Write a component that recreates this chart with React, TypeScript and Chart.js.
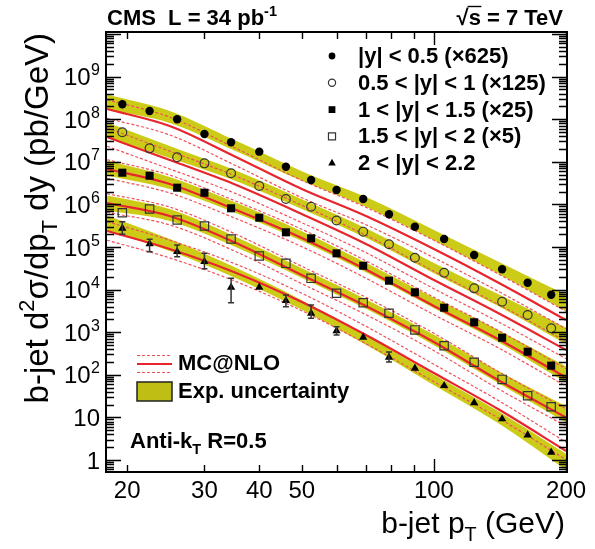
import React, { useEffect, useRef } from 'react';
import { Chart, registerables } from 'chart.js';
Chart.register(...registerables);

// ---------------- data ----------------
const ptCenters = [19.5, 22.5, 26, 30, 34.5, 40, 46, 52.5, 60, 69, 79, 90.5, 105.5, 123.5, 143, 163.5, 185];

const xsY05 = [2.24e8, 1.56e8, 1.0e8, 4.5e7, 2.87e7, 1.73e7, 7.67e6, 3.74e6, 2.18e6, 1.34e6, 5.86e5, 3.0e5, 1.54e5, 6.49e4, 3.0e4, 1.45e4, 7.6e3];
const xsY10 = [4.92e7, 2.07e7, 1.28e7, 9.2e6, 5.37e6, 2.7e6, 1.34e6, 8.8e5, 4.19e5, 2.29e5, 1.16e5, 5.6e4, 2.49e4, 1.07e4, 5.2e3, 2.53e3, 1.24e3];
const xsY15 = [5.55e6, 4.72e6, 2.47e6, 1.88e6, 8.1e5, 4.87e5, 2.21e5, 1.6e5, 7.1e4, 3.64e4, 1.62e4, 8.65e3, 3.76e3, 1.71e3, 743, 349, 164];
const xsY20 = [6.38e5, 7.8e5, 4.3e5, 3.11e5, 1.54e5, 6.15e4, 4.14e4, 1.84e4, 8.2e3, 4.92e3, 2.78e3, 1.13e3, 482, 197, 78, 32.3, 17.8];
const xsY22 = [2.75e5, 1.18e5, 7.76e4, 4.52e4, 1.13e4, 1.13e4, 5.49e3, 2.78e3, 1.07e3, 759, 258, 142, 55.5, 22.1, 9.2, 3.86, 1.52];

// error bars of the 2<|y|<2.2 series (null = hidden)
const errLowY22 = [2.0e5, 7.76e4, 5.92e4, 3.1e4, 4.93e3, null, 3.97e3, 2.12e3, 860, null, 200, null, null, null, null, null, null];
const errHighY22 = [3.9e5, 1.52e5, 1.11e5, 7.11e4, 1.84e4, null, 7.47e3, 4.35e3, 1340, null, 343, null, null, null, null, null, null];

// smooth curves (experimental band centre, MC@NLO) at these pT nodes
const curvePt = [18, 25, 35, 50, 70, 100, 140, 200];

const bandY05 = [2.53e8, 1.13e8, 2.48e7, 4.64e6, 1.14e6, 1.91e5, 3.3e4, 4.85e3];
const bandY10 = [5.57e7, 1.7e7, 4.9e6, 1.02e6, 2.13e5, 3.21e4, 5.7e3, 815];
const bandY15 = [7.15e6, 3.18e6, 8.69e5, 1.81e5, 3.3e4, 4.85e3, 815, 102];
const bandY20 = [1.08e6, 5.64e5, 1.38e5, 2.45e4, 4.59e3, 656, 88.8, 11.7];
const bandY22 = [3.66e5, 1.11e5, 2.59e4, 4.35e3, 656, 75.5, 10.2, 0.9];
const expUnc = [0.5, 0.38, 0.32, 0.3, 0.3, 0.32, 0.38, 0.55];

const mcY05 = [1.73e8, 6.92e7, 1.37e7, 2.3e6, 5.34e5, 8.98e4, 1.47e4, 1.93e3];
const mcY10 = [3.82e7, 1.1e7, 3.01e6, 5.96e5, 1.18e5, 1.68e4, 2.82e3, 382];
const mcY15 = [6.78e6, 3.01e6, 7.8e5, 1.63e5, 2.96e4, 4.12e3, 692, 86.4];
const mcY20 = [1.08e6, 5.34e5, 1.31e5, 2.2e4, 4.12e3, 589, 75.5, 9.95];
const mcY22 = [2.38e5, 8.98e4, 2.59e4, 5.12e3, 859, 110, 15.7, 1.63];
const mcScaleUnc = [1.65, 1.62, 1.6, 1.6, 1.6, 1.6, 1.6, 1.6];

const seriesLabels = ['|y| < 0.5 (×625)', '0.5 < |y| < 1 (×125)', '1 < |y| < 1.5 (×25)', '1.5 < |y| < 2 (×5)', '2 < |y| < 2.2'];
const xTickLabels = [20, 30, 40, 50, 100, 200];
const yTickPowers = [0, 1, 2, 3, 4, 5, 6, 7, 8, 9];

// ---------------- style ----------------
const FONT = '"Liberation Sans", Arial, Helvetica, sans-serif';
const BAND = 'rgb(204,204,24)';
const RED = 'rgb(232,36,44)';
const RED_DASH = 'rgb(240,80,90)';

type MarkerDef = { style: string; filled: boolean; r: number; lr: number };
const markers: MarkerDef[] = [
  { style: 'circle', filled: true, r: 4.2, lr: 3.4 },
  { style: 'circle', filled: false, r: 4.4, lr: 3.6 },
  { style: 'rect', filled: true, r: 5.7, lr: 4.8 },
  { style: 'rect', filled: false, r: 5.9, lr: 5.0 },
  { style: 'triangle', filled: true, r: 4.8, lr: 4.4 },
];

type Seg = { t: string; s?: 'sup' | 'sub' };

function drawRich(ctx: CanvasRenderingContext2D, segs: Seg[], x: number, y: number, size: number, weight: string, align: 'left' | 'right' | 'center') {
  const f = (sz: number) => `${weight} ${sz}px ${FONT}`;
  let total = 0;
  for (const sg of segs) {
    ctx.font = f(sg.s ? size * 0.66 : size);
    total += ctx.measureText(sg.t).width;
  }
  let cx = align === 'right' ? x - total : align === 'center' ? x - total / 2 : x;
  ctx.textAlign = 'left';
  ctx.textBaseline = 'alphabetic';
  const starts: number[] = [];
  for (const sg of segs) {
    const sz = sg.s ? size * 0.66 : size;
    ctx.font = f(sz);
    const dy = sg.s === 'sup' ? -size * 0.42 : sg.s === 'sub' ? size * 0.28 : 0;
    starts.push(cx);
    ctx.fillText(sg.t, cx, y + dy);
    cx += ctx.measureText(sg.t).width;
  }
  return starts;
}

function drawMarker(ctx: CanvasRenderingContext2D, m: MarkerDef, x: number, y: number, r: number) {
  ctx.beginPath();
  if (m.style === 'circle') {
    ctx.arc(x, y, r, 0, Math.PI * 2);
  } else if (m.style === 'rect') {
    const s = r * Math.SQRT1_2;
    ctx.rect(x - s, y - s, 2 * s, 2 * s);
  } else {
    ctx.moveTo(x, y - r);
    ctx.lineTo(x + r * 0.866, y + r * 0.5);
    ctx.lineTo(x - r * 0.866, y + r * 0.5);
    ctx.closePath();
  }
  if (m.filled) {
    ctx.fillStyle = '#000';
    ctx.fill();
  } else {
    ctx.strokeStyle = '#333';
    ctx.lineWidth = 1.2;
    ctx.stroke();
  }
}

const errorBarPlugin = {
  id: 'errorBars',
  afterDatasetsDraw(chart: any) {
    const { ctx, scales } = chart;
    ctx.save();
    ctx.strokeStyle = '#333';
    ctx.lineWidth = 1.5;
    ptCenters.forEach((pt, i) => {
      const lo = errLowY22[i];
      const hi = errHighY22[i];
      if (lo == null || hi == null) return;
      const px = scales.x.getPixelForValue(pt);
      const y1 = scales.y.getPixelForValue(lo);
      const y2 = scales.y.getPixelForValue(hi);
      ctx.beginPath();
      ctx.moveTo(px, y1); ctx.lineTo(px, y2);
      ctx.moveTo(px - 3, y1); ctx.lineTo(px + 3, y1);
      ctx.moveTo(px - 3, y2); ctx.lineTo(px + 3, y2);
      ctx.stroke();
    });
    ctx.restore();
  },
};

const frameAndTextPlugin = {
  id: 'rootFrame',
  afterDraw(chart: any) {
    const { ctx, chartArea: a, scales } = chart;
    const xs = scales.x;
    const ys = scales.y;
    ctx.save();
    // ticks
    ctx.strokeStyle = '#000';
    ctx.lineWidth = 1.4;
    ctx.beginPath();
    for (let n = -1; n <= 10; n++) {
      for (let k = 1; k <= 9; k++) {
        const v = k * Math.pow(10, n);
        if (v < ys.min || v > ys.max) continue;
        const py = Math.round(ys.getPixelForValue(v)) + 0.5;
        const len = k === 1 ? 15 : 8;
        ctx.moveTo(a.left, py); ctx.lineTo(a.left + len, py);
        ctx.moveTo(a.right, py); ctx.lineTo(a.right - len, py);
      }
    }
    for (let n = 1; n <= 2; n++) {
      for (let k = 1; k <= 9; k++) {
        const v = k * Math.pow(10, n);
        if (v < xs.min || v > xs.max) continue;
        const px = Math.round(xs.getPixelForValue(v)) + 0.5;
        const len = k === 1 ? 13 : 7;
        ctx.moveTo(px, a.bottom); ctx.lineTo(px, a.bottom - len);
        ctx.moveTo(px, a.top); ctx.lineTo(px, a.top + len);
      }
    }
    ctx.stroke();
    // frame
    ctx.lineWidth = 2;
    ctx.strokeRect(a.left, a.top, a.right - a.left, a.bottom - a.top);

    ctx.fillStyle = '#000';
    // y tick labels
    const labRight = a.left - 6;
    for (const n of yTickPowers) {
      const py = ys.getPixelForValue(Math.pow(10, n));
      ctx.textBaseline = 'alphabetic';
      if (n <= 1) {
        ctx.font = `24px ${FONT}`;
        ctx.textAlign = 'right';
        ctx.fillText(n === 0 ? '1' : '10', labRight, py + 8.5);
      } else {
        ctx.font = `16px ${FONT}`;
        ctx.textAlign = 'right';
        const sup = String(n);
        const sw = ctx.measureText(sup).width;
        ctx.fillText(sup, labRight, py - 1.5);
        ctx.font = `24px ${FONT}`;
        ctx.fillText('10', labRight - sw - 0.5, py + 8.5);
      }
    }
    // x tick labels
    ctx.font = `24px ${FONT}`;
    ctx.textAlign = 'center';
    for (const v of xTickLabels) {
      ctx.fillText(String(v), xs.getPixelForValue(v), a.bottom + 26);
    }
    // axis titles
    drawRich(ctx, [{ t: 'b-jet p' }, { t: 'T', s: 'sub' }, { t: ' (GeV)' }], a.right - 2, a.bottom + 61, 30, 'normal', 'right');
    ctx.save();
    ctx.translate(48, a.top + 1);
    ctx.rotate(-Math.PI / 2);
    drawRich(ctx, [{ t: 'b-jet d' }, { t: '2', s: 'sup' }, { t: 'σ/dp' }, { t: 'T', s: 'sub' }, { t: ' dy (pb/GeV)' }], 0, 0, 33, 'normal', 'right');
    ctx.restore();

    // header
    drawRich(ctx, [{ t: 'CMS  L = 34 pb' }, { t: '-1', s: 'sup' }], a.left + 1, 25, 22, 'bold', 'left');
    const st = drawRich(ctx, [{ t: '√' }, { t: 's = 7 TeV' }], a.right - 4, 25, 22, 'bold', 'right');
    ctx.font = `bold 22px ${FONT}`;
    const sW = ctx.measureText('s').width;
    ctx.lineWidth = 1.4;
    ctx.beginPath();
    ctx.moveTo(st[1] - 1, 6.5);
    ctx.lineTo(st[1] + sW + 0.5, 6.5);
    ctx.stroke();

    // series legend (top right)
    const legX = 332;
    const legTextX = 358;
    const legY0 = 56;
    const legDy = 26.8;
    seriesLabels.forEach((lab, i) => {
      const y = legY0 + i * legDy;
      drawMarker(ctx, markers[i], legX, y, markers[i].lr);
      ctx.fillStyle = '#000';
      ctx.font = `bold 22px ${FONT}`;
      ctx.textAlign = 'left';
      ctx.textBaseline = 'middle';
      ctx.fillText(lab, legTextX, y + 1);
    });

    // MC@NLO / Exp. uncertainty legend
    const lx0 = 137, lx1 = 172;
    ctx.strokeStyle = RED;
    ctx.lineWidth = 2.2;
    ctx.setLineDash([]);
    ctx.beginPath(); ctx.moveTo(lx0, 364); ctx.lineTo(lx1, 364); ctx.stroke();
    ctx.strokeStyle = RED_DASH;
    ctx.lineWidth = 1.2;
    ctx.setLineDash([3, 2]);
    ctx.beginPath();
    ctx.moveTo(lx0, 355.5); ctx.lineTo(lx1, 355.5);
    ctx.moveTo(lx0, 372.5); ctx.lineTo(lx1, 372.5);
    ctx.stroke();
    ctx.setLineDash([]);
    ctx.fillStyle = 'rgb(190,190,20)';
    ctx.fillRect(lx0, 382, lx1 - lx0, 19);
    ctx.strokeStyle = '#222';
    ctx.lineWidth = 1.5;
    ctx.strokeRect(lx0, 382, lx1 - lx0, 19);
    ctx.fillStyle = '#000';
    ctx.font = `bold 22px ${FONT}`;
    ctx.textAlign = 'left';
    ctx.textBaseline = 'middle';
    ctx.fillText('MC@NLO', 178, 364);
    ctx.fillText('Exp. uncertainty', 178, 392);

    drawRich(ctx, [{ t: 'Anti-k' }, { t: 'T', s: 'sub' }, { t: ' R=0.5' }], 130, 448, 22, 'bold', 'left');
    ctx.restore();
  },
};

function App() {
  const ref = useRef<HTMLCanvasElement | null>(null);
  useEffect(() => {
    if (!ref.current) return;
    const dataSets = [xsY05, xsY10, xsY15, xsY20, xsY22];
    const bands = [bandY05, bandY10, bandY15, bandY20, bandY22];
    const mcs = [mcY05, mcY10, mcY15, mcY20, mcY22];
    const datasets: any[] = [];
    bands.forEach((b) => {
      datasets.push({
        data: curvePt.map((x, j) => ({ x, y: b[j] * (1 + expUnc[j]) })),
        fill: '+1', backgroundColor: BAND, borderWidth: 0, borderColor: 'rgba(0,0,0,0)',
        pointRadius: 0, order: 4, cubicInterpolationMode: 'monotone',
      });
      datasets.push({
        data: curvePt.map((x, j) => ({ x, y: b[j] / (1 + expUnc[j]) })),
        fill: false, borderWidth: 0, borderColor: 'rgba(0,0,0,0)',
        pointRadius: 0, order: 4, cubicInterpolationMode: 'monotone',
      });
    });
    mcs.forEach((m) => {
      datasets.push({
        data: curvePt.map((x, j) => ({ x, y: m[j] * mcScaleUnc[j] })),
        borderColor: RED_DASH, borderWidth: 1.2, borderDash: [3, 2], fill: false,
        pointRadius: 0, order: 3, cubicInterpolationMode: 'monotone',
      });
      datasets.push({
        data: curvePt.map((x, j) => ({ x, y: m[j] / mcScaleUnc[j] })),
        borderColor: RED_DASH, borderWidth: 1.2, borderDash: [3, 2], fill: false,
        pointRadius: 0, order: 3, cubicInterpolationMode: 'monotone',
      });
      datasets.push({
        data: curvePt.map((x, j) => ({ x, y: m[j] })),
        borderColor: RED, borderWidth: 2.2, fill: false,
        pointRadius: 0, order: 2, cubicInterpolationMode: 'monotone',
      });
    });
    dataSets.forEach((d, i) => {
      const mk = markers[i];
      datasets.push({
        data: ptCenters.map((x, j) => ({ x, y: d[j] })),
        showLine: false, fill: false,
        pointStyle: mk.style, pointRadius: mk.r,
        pointBackgroundColor: mk.filled ? '#000' : 'rgba(0,0,0,0)',
        pointBorderColor: mk.filled ? '#000' : '#333',
        pointBorderWidth: mk.filled ? 0 : 1.2,
        order: 1,
      });
    });

    const chart = new Chart(ref.current, {
      type: 'line',
      data: { datasets },
      options: {
        responsive: false,
        animation: false,
        devicePixelRatio: 1,
        events: [],
        layout: { padding: { left: 106, right: 28, top: 32, bottom: 77 } },
        plugins: { legend: { display: false }, tooltip: { enabled: false } },
        scales: {
          x: { type: 'logarithmic', min: 17.9, max: 201, display: false },
          y: { type: 'logarithmic', min: 0.523, max: 1.114e10, display: false },
        },
      },
      plugins: [errorBarPlugin, frameAndTextPlugin],
    } as any);
    return () => chart.destroy();
  }, []);
  return (
    <div style={{ position: 'absolute', left: 0, top: 0, width: 595, height: 549, background: '#fff' }}>
      <canvas ref={ref} width={595} height={549} style={{ display: 'block' }} />
    </div>
  );
}

export default App;
